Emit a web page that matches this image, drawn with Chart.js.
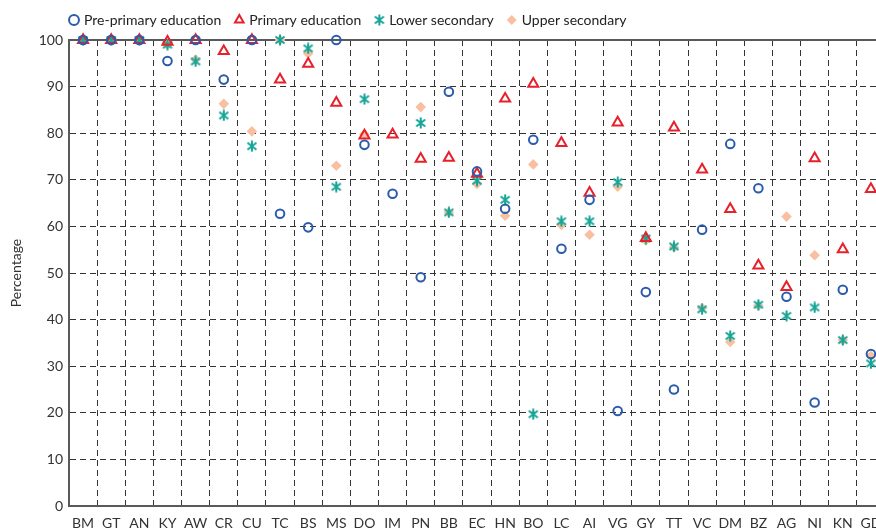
<!DOCTYPE html>
<html>
<head>
<meta charset="utf-8">
<script src="https://cdn.jsdelivr.net/npm/chart.js@4.4.1/dist/chart.umd.min.js"></script>
<style>
  html, body { margin: 0; padding: 0; background: #fff; overflow: hidden; }
  #wrap { width: 893px; height: 530px; }
</style>
</head>
<body>
<div id="wrap"><canvas id="chart"></canvas></div>
<script>
const countries = ['BM','GT','AN','KY','AW','CR','CU','TC','BS','MS','DO','IM','PN','BB','EC',
  'HN','BO','LC','AI','VG','GY','TT','VC','DM','BZ','AG','NI','KN','GD'];

const prePrimary = [100,100,100,95.5,100,91.5,100,62.7,59.8,100,77.5,67.0,49.1,88.9,71.8,
  63.8,78.6,55.2,65.7,20.4,45.9,25.0,59.3,77.7,68.2,44.9,22.2,46.4,32.6];
const primary = [100,100,100,99.6,100,97.6,100,91.5,94.9,86.5,79.5,79.7,74.5,74.7,71.3,
  87.4,90.6,77.9,67.2,82.3,57.5,81.2,72.2,63.7,51.6,47.0,74.6,55.1,68.0];
const lowerSecondary = [100,100,100,99.0,95.4,83.8,77.2,100,98.2,68.5,87.3,null,82.2,63.0,69.8,
  65.7,19.7,61.1,61.1,69.5,57.4,55.7,42.2,36.5,43.2,40.8,42.6,35.6,30.6];
const upperSecondary = [100,100,100,99.0,95.8,86.3,80.4,100,97.1,73.0,79.8,null,85.6,63.0,69.1,
  62.3,73.3,60.3,58.2,68.5,57.0,55.5,42.5,35.2,43.0,62.1,53.8,35.6,32.2];

const yTicks = [0,10,20,30,40,50,60,70,80,90,100];

const FONT = 'Lato, "Open Sans", sans-serif';

// asterisk marker: an X crossed by a vertical bar
function asterisk(color) {
  const c = document.createElement('canvas');
  c.width = 12; c.height = 12;
  const g = c.getContext('2d');
  g.strokeStyle = color;
  g.lineWidth = 2;
  g.beginPath();
  g.moveTo(6, 0.5); g.lineTo(6, 11.5);
  g.moveTo(1.5, 2.5); g.lineTo(10.5, 9.5);
  g.moveTo(10.5, 2.5); g.lineTo(1.5, 9.5);
  g.stroke();
  return c;
}

// solid frame line along the top of the plot
const topLine = {
  id: 'topLine',
  beforeDatasetsDraw(chart) {
    const {ctx, chartArea: a} = chart;
    ctx.save();
    ctx.strokeStyle = '#595959';
    ctx.lineWidth = 2;
    ctx.beginPath();
    ctx.moveTo(a.left - 1, a.top);
    ctx.lineTo(a.right, a.top);
    ctx.stroke();
    ctx.restore();
  }
};

// nudge the legend row to sit over the plot
const legendPos = {
  id: 'legendPos',
  afterLayout(chart) {
    chart.legend.left = 56;
    chart.legend.top = -2;
  }
};

const ctx = document.getElementById('chart');
new Chart(ctx, {
  type: 'line',
  data: {
    labels: countries,
    datasets: [
      {
        label: 'Pre-primary education',
        data: prePrimary,
        showLine: false,
        pointStyle: 'circle',
        pointRadius: 4.3,
        borderWidth: 2,
        pointBorderWidth: 2,
        borderColor: '#2b5bab',
        backgroundColor: 'rgba(255,255,255,0)',
        pointBackgroundColor: 'rgba(255,255,255,0)',
        clip: false
      },
      {
        label: 'Primary education',
        data: primary,
        showLine: false,
        pointStyle: 'triangle',
        pointRadius: 5.8,
        borderWidth: 2,
        pointBorderWidth: 2,
        borderColor: '#e6212b',
        backgroundColor: 'rgba(255,255,255,0)',
        pointBackgroundColor: 'rgba(255,255,255,0)',
        clip: false
      },
      {
        label: 'Lower secondary',
        data: lowerSecondary,
        showLine: false,
        pointStyle: asterisk('#17a598'),
        pointRadius: 6,
        borderWidth: 2,
        borderColor: '#17a598',
        backgroundColor: '#17a598',
        clip: false
      },
      {
        label: 'Upper secondary',
        data: upperSecondary,
        showLine: false,
        pointStyle: 'rectRot',
        pointRadius: 5.3,
        borderWidth: 0,
        pointBorderWidth: 0,
        borderColor: '#f8c0a0',
        backgroundColor: '#f8c0a0',
        pointBackgroundColor: '#f8c0a0',
        clip: false
      }
    ]
  },
  options: {
    responsive: true,
    maintainAspectRatio: false,
    animation: false,
    layout: { padding: { top: 1, right: 2, bottom: 0, left: 0 } },
    plugins: {
      legend: {
        position: 'top',
        align: 'start',
        labels: {
          usePointStyle: true,
          boxWidth: 6,
          boxHeight: 7,
          padding: 15,
          color: '#222',
          font: { family: FONT, size: 14 }
        }
      },
      tooltip: { enabled: false }
    },
    scales: {
      x: {
        offset: true,
        grid: {
          offset: true,
          color: '#333',
          lineWidth: 1,
          drawTicks: false
        },
        border: { display: true, color: '#595959', width: 2, dash: [6, 4] },
        ticks: {
          padding: 9,
          color: '#333',
          font: { family: FONT, size: 14 },
          maxRotation: 0,
          autoSkip: false
        },
        afterFit(scale) {
          scale.height = 24;
          scale.paddingLeft = 0;
          scale.paddingRight = 0;
        }
      },
      y: {
        min: 0,
        max: 100,
        afterBuildTicks(scale) { scale.ticks = yTicks.map(v => ({ value: v })); },
        grid: {
          color: '#333',
          lineWidth: 1,
          drawTicks: false
        },
        border: { display: true, color: '#595959', width: 2, dash: [6, 4] },
        ticks: {
          padding: 6,
          color: '#333',
          font: { family: FONT, size: 14 }
        },
        title: {
          display: true,
          text: 'Percentage',
          color: '#333',
          padding: { top: 8, bottom: 0 },
          font: { family: FONT, size: 14 }
        },
        afterFit(scale) { scale.width = 69; }
      }
    }
  },
  plugins: [topLine, legendPos]
});
</script>
</body>
</html>
